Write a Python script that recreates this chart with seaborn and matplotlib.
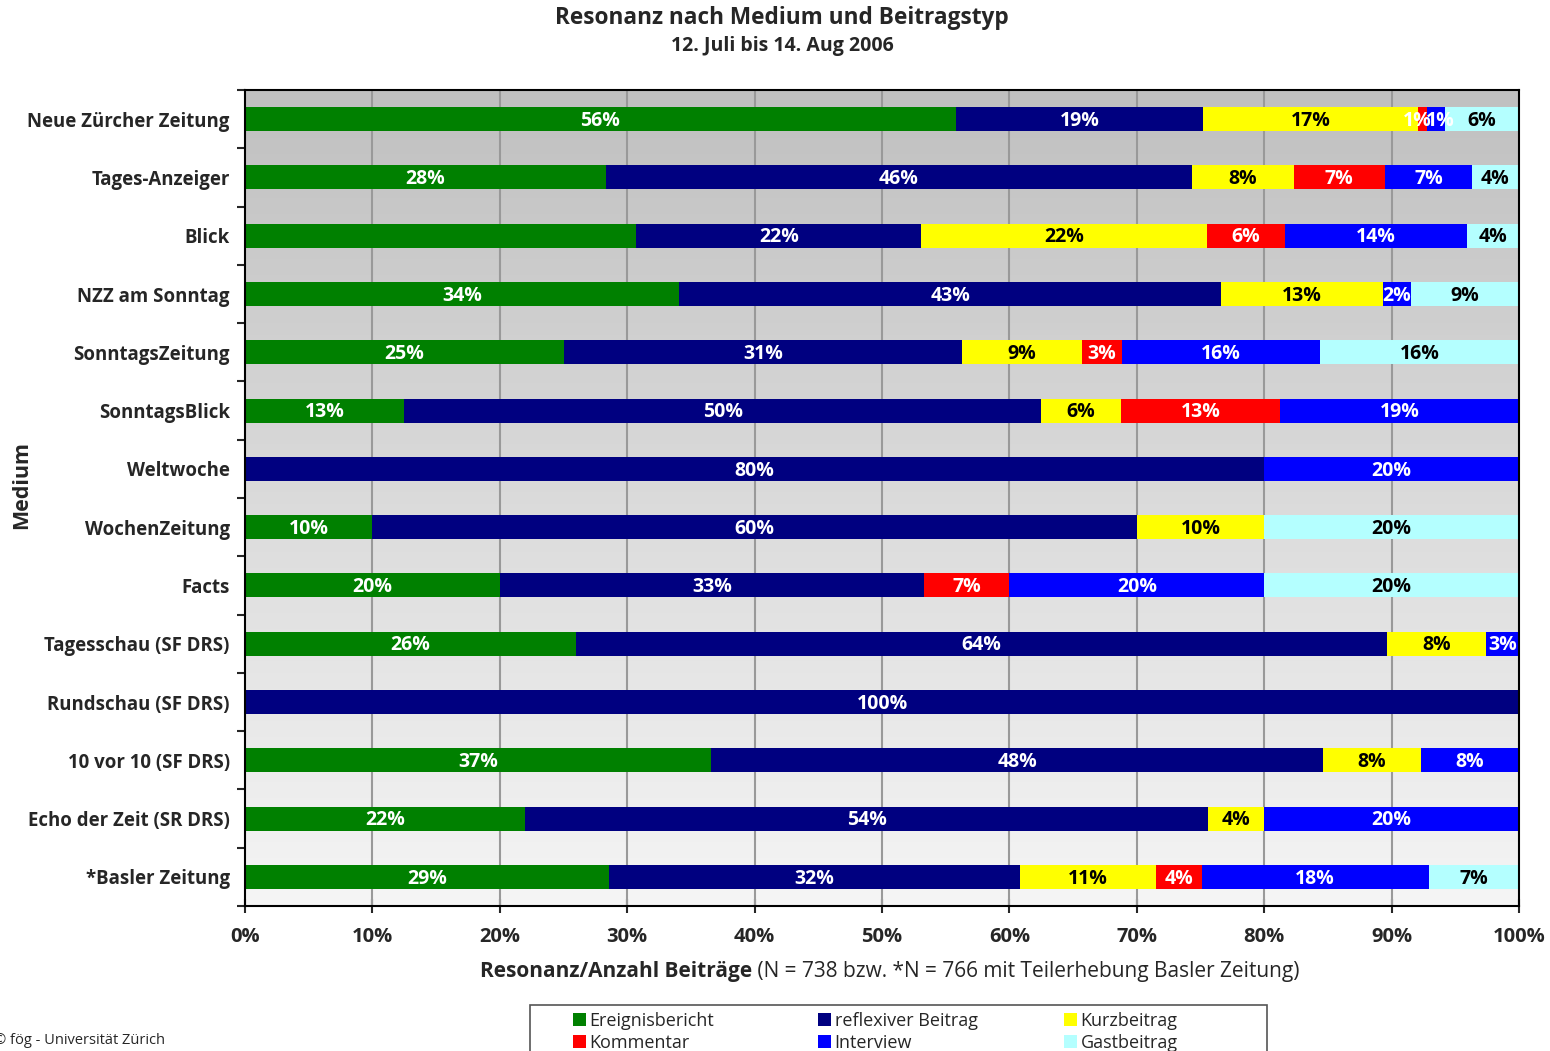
import numpy as np
import pandas as pd
import seaborn as sns
import matplotlib.pyplot as plt
from matplotlib.colors import LinearSegmentedColormap
from matplotlib.patches import Patch, Rectangle

# --- données (en %) ---
medien = ["Neue Zürcher Zeitung", "Tages-Anzeiger", "Blick", "NZZ am Sonntag",
          "SonntagsZeitung", "SonntagsBlick", "Weltwoche", "WochenZeitung", "Facts",
          "Tagesschau (SF DRS)", "Rundschau (SF DRS)", "10 vor 10 (SF DRS)",
          "Echo der Zeit (SR DRS)", "*Basler Zeitung"]

ereignisbericht = [55.8, 28.3, 30.7, 34.1, 25.0, 12.5, 0, 10, 20.0, 26.0, 0, 36.6, 22.0, 28.6]
reflexiver_beitrag = [19.4, 46.0, 22.4, 42.5, 31.3, 50.0, 80, 60, 33.3, 63.6, 100, 48.0, 53.6, 32.2]
kurzbeitrag = [16.9, 8.0, 22.4, 12.7, 9.4, 6.25, 0, 10, 0, 7.8, 0, 7.7, 4.4, 10.7]
kommentar = [0.7, 7.2, 6.1, 0, 3.1, 12.5, 0, 0, 6.7, 0, 0, 0, 0, 3.6]
interview = [1.4, 6.8, 14.3, 2.2, 15.6, 18.75, 20, 0, 20.0, 2.6, 0, 7.7, 20.0, 17.8]
gastbeitrag = [5.8, 3.7, 4.1, 8.5, 15.6, 0, 0, 20, 20.0, 0, 0, 0, 0, 7.1]

typen = ["Ereignisbericht", "reflexiver Beitrag", "Kurzbeitrag",
         "Kommentar", "Interview", "Gastbeitrag"]
farben = ["#008000", "#000080", "#ffff00", "#ff0000", "#0000ff", "#b4ffff"]
textfarben = ["white", "white", "black", "white", "white", "black"]
# dans l'original, l'étiquette verte de "Blick" n'est pas affichée
sans_etiquette = [("Blick", "Ereignisbericht")]
# petits décalages pour les segments très étroits (1% / 1%)
decalage = {("Neue Zürcher Zeitung", "Kommentar"): -0.45,
            ("Neue Zürcher Zeitung", "Interview"): 0.35}

df = pd.DataFrame({"Medium": medien, "Ereignisbericht": ereignisbericht,
                   "reflexiver Beitrag": reflexiver_beitrag, "Kurzbeitrag": kurzbeitrag,
                   "Kommentar": kommentar, "Interview": interview,
                   "Gastbeitrag": gastbeitrag})
cumul = df[typen].cumsum(axis=1)

sns.set_style("white")
plt.rcParams["font.family"] = ["Open Sans", "DejaVu Sans"]

fig = plt.figure(figsize=(15.5, 10.51), dpi=100)
ax = fig.add_axes([245 / 1550, 1 - 906 / 1051, 1274 / 1550, 816 / 1051])

# barres empilées : on dessine les cumuls du dernier au premier
for typ, col in reversed(list(zip(typen, farben))):
    sns.barplot(x=cumul[typ], y=df["Medium"], orient="h", color=col, saturation=1,
                width=0.41, ax=ax, zorder=2, edgecolor="none", linewidth=0)

# étiquettes des segments
for i, med in enumerate(medien):
    for typ, tc in zip(typen, textfarben):
        v = df.loc[i, typ]
        if v <= 0 or (med, typ) in sans_etiquette:
            continue
        mitte = cumul.loc[i, typ] - v / 2 + decalage.get((med, typ), 0)
        ax.text(mitte, i + 0.03, f"{int(np.floor(v + 0.5))}%", ha="center", va="center",
                color=tc, fontsize=14, fontweight="bold", zorder=3)

# fond dégradé (gris en haut, clair en bas)
fond = LinearSegmentedColormap.from_list("fond", ["#c0c0c0", "#f5f5f5"])
ax.imshow(np.linspace(0, 1, 256).reshape(-1, 1), cmap=fond, aspect="auto",
          extent=(0, 100, len(medien) - 0.5, -0.5), zorder=0)

ax.set_xlim(0, 100)
ax.set_ylim(len(medien) - 0.5, -0.5)
for x in range(10, 100, 10):
    ax.axvline(x, color="#999999", lw=1.5, zorder=1)

ax.set_xticks(range(0, 101, 10))
ax.set_xticklabels([f"{x}%" for x in range(0, 101, 10)], fontsize=14.5, fontweight="bold")
ax.tick_params(axis="x", direction="inout", length=10, width=1.5, pad=10, bottom=True)
ax.set_yticks(range(len(medien)))
ax.set_yticklabels(medien, fontsize=13.4, fontweight="bold")
ax.tick_params(axis="y", which="major", length=0, pad=11)
ax.set_yticks(np.arange(-0.5, len(medien), 1), minor=True)
ax.tick_params(axis="y", which="minor", direction="out", length=6, width=1.5, left=True)
ax.set_xlabel("")
ax.set_ylabel("")
for s in ax.spines.values():
    s.set_visible(True)
    s.set_color("black")
    s.set_linewidth(1.5)

# titres
fig.text(782 / 1550, 1 - 18 / 1051, "Resonanz nach Medium und Beitragstyp",
         ha="center", va="center", fontsize=16.3, fontweight="bold")
fig.text(782 / 1550, 1 - 46 / 1051, "12. Juli bis 14. Aug 2006",
         ha="center", va="center", fontsize=14, fontweight="bold")
fig.text(22 / 1550, 1 - 485 / 1051, "Medium", rotation=90, ha="center", va="center",
         fontsize=15.5, fontweight="bold")

xl = fig.text(480 / 1550, 1 - 971 / 1051, "Resonanz/Anzahl Beiträge", ha="left",
              va="center", fontsize=15, fontweight="bold")
ax.annotate(" (N = 738 bzw. *N = 766 mit Teilerhebung Basler Zeitung)",
            xy=(1, 0.5), xycoords=xl, ha="left", va="center", fontsize=15)

fig.text(-0.004, 1 - 1040 / 1051, "© fög - Universität Zürich", ha="left",
         va="center", fontsize=10.5)

# légende : cadre + trois colonnes
fig.patches.append(Rectangle((530 / 1550, -0.01), 737 / 1550, (1051 - 1005) / 1051 + 0.01,
                             transform=fig.transFigure, facecolor="white",
                             edgecolor="#555555", linewidth=1.2))
for c, x0 in enumerate([573, 818, 1064]):
    ks = [c, c + 3]
    leg = fig.legend([Patch(facecolor=farben[k], edgecolor="none") for k in ks],
                     [typen[k] for k in ks], loc="upper left",
                     bbox_to_anchor=(x0 / 1550, 1 - 1012 / 1051), frameon=False,
                     fontsize=13, handlelength=0.72, handleheight=0.72,
                     handletextpad=0.2, labelspacing=0.2, borderpad=0,
                     borderaxespad=0)

fig.savefig("out.png", dpi=100)
